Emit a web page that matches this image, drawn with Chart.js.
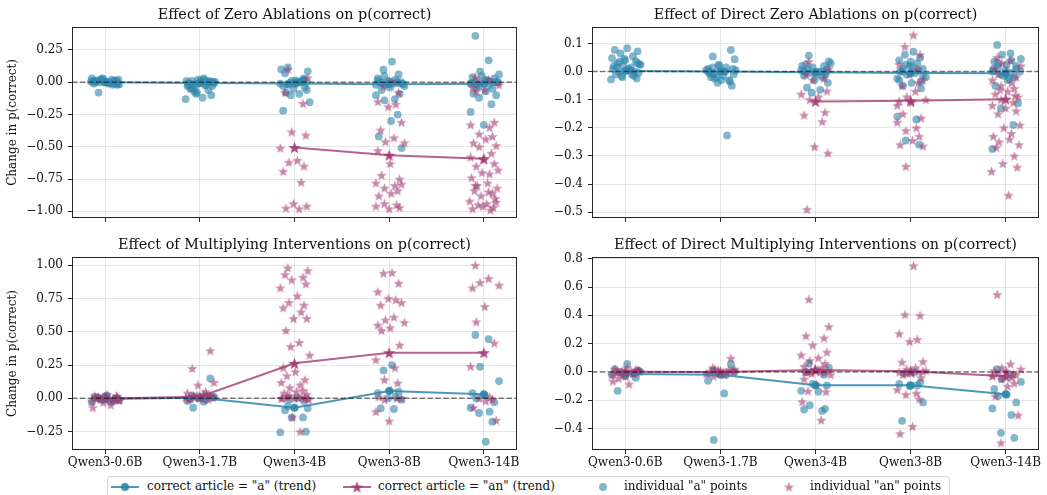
<!DOCTYPE html>
<html>
<head>
<meta charset="utf-8">
<script src="https://cdn.jsdelivr.net/npm/chart.js@4.4.1/dist/chart.umd.min.js"></script>
<style>
  html, body { margin: 0; padding: 0; background: #ffffff; }
  #wrap { position: relative; width: 1047px; height: 495px; overflow: hidden; background: #fff; }
  canvas.panel { position: absolute; }
  #legend { position: absolute; left: 107px; top: 476px; width: 843px; height: 24px; box-sizing: border-box;
            border: 1px solid #d4d4d4; border-radius: 3px; background: rgba(255,255,255,0.85);
            font-family: "DejaVu Serif", serif; font-size: 12px; color: #111; }
  .li { position: absolute; top: 2px; white-space: nowrap; line-height: 15px; }
  .lm { position: absolute; top: 3px; }
</style>
</head>
<body>
<div id="wrap">
  <canvas class="panel" id="c1" width="525" height="230" style="left:0px;top:0px;width:525px;height:230px"></canvas>
  <canvas class="panel" id="c2" width="527" height="230" style="left:520px;top:0px;width:527px;height:230px"></canvas>
  <canvas class="panel" id="c3" width="525" height="245" style="left:0px;top:230px;width:525px;height:245px"></canvas>
  <canvas class="panel" id="c4" width="527" height="245" style="left:520px;top:230px;width:527px;height:245px"></canvas>
  <div id="legend">
    <canvas class="lm" id="lm1" width="30" height="14" style="left:2px"></canvas>
    <span class="li" style="left:39px">correct article = "a" (trend)</span>
    <canvas class="lm" id="lm2" width="30" height="14" style="left:234px"></canvas>
    <span class="li" style="left:270px">correct article = "an" (trend)</span>
    <canvas class="lm" id="lm3" width="30" height="14" style="left:480px"></canvas>
    <span class="li" style="left:516px">individual "a" points</span>
    <canvas class="lm" id="lm4" width="30" height="14" style="left:666px"></canvas>
    <span class="li" style="left:702px">individual "an" points</span>
  </div>
</div>
<script>
// ---------------- DATA ----------------
const MODELS = ['Qwen3-0.6B', 'Qwen3-1.7B', 'Qwen3-4B', 'Qwen3-8B', 'Qwen3-14B'];

// horizontal jitter offsets (category units) used to spread individual points
const JITTER = [0.02,-0.11,0.13,-0.05,0.08,-0.14,0.0,0.11,-0.08,0.15,-0.02,0.06,-0.13,0.04,-0.07,0.14,-0.1,0.09,-0.03,0.12,
                -0.15,0.03,-0.06,0.1,-0.12,0.07,-0.01,0.13,-0.09,0.05,-0.04,0.16,-0.12,0.01,-0.08,0.11,-0.14,0.06,-0.05,0.09];

// Panel 1: Effect of Zero Ablations
const zeroA = [
  [0,0.01,-0.01,0.02,-0.02,0.03,0.005,-0.005,0.015,-0.015,0.025,0,0.01,-0.01,-0.08,0.02,0,-0.01,0.03,0.01,0.005,-0.005,0,0.015,-0.01,0.02,0,-0.02],
  [0,0.01,-0.01,0.02,-0.02,-0.03,0.03,-0.04,0,-0.05,-0.06,-0.08,-0.1,-0.13,-0.12,-0.07,0.01,-0.02,0,-0.01,-0.03,-0.05,0.02,-0.09,0.005,-0.005,0.015,-0.015,0,0.01,-0.025,-0.035],
  [0.115,0.085,0.07,0.02,0.01,0,-0.01,0.005,-0.02,0.03,-0.03,0,-0.05,-0.06,-0.08,-0.09,-0.1,-0.155,-0.22,0.015,-0.015,-0.04,0.1,0,-0.005,0.01,-0.01],
  [0.16,0.097,0.06,0.03,0.02,0.01,0,-0.005,-0.01,-0.02,-0.03,0.015,-0.04,-0.06,-0.09,-0.1,-0.13,-0.14,-0.25,-0.3,-0.42,-0.51,0.05,0,-0.02,0.005,-0.01,0,-0.015],
  [0.36,0.17,0.085,0.06,0.04,0.02,0.01,0,-0.01,-0.02,-0.03,-0.05,-0.07,-0.09,-0.1,-0.12,-0.17,-0.23,-0.33,0.03,-0.04,0,0.05,0.005,-0.005,0.015,-0.015,0]
];
const zeroAn = [
  [],
  [],
  [0.1,0.035,-0.08,-0.165,-0.385,-0.41,-0.51,-0.605,-0.62,-0.65,-0.69,-0.775,-0.94,-0.96,-0.975,-0.98],
  [0.008,-0.03,-0.08,-0.15,-0.17,-0.19,-0.31,-0.37,-0.43,-0.46,-0.47,-0.53,-0.63,-0.72,-0.75,-0.78,-0.8,-0.82,-0.84,-0.86,-0.88,-0.79,-0.94,-0.95,-0.96,-0.98,-0.97],
  [0.04,0.02,0,-0.02,-0.04,-0.06,-0.07,-0.31,-0.33,-0.35,-0.4,-0.42,-0.44,-0.47,-0.49,-0.5,-0.55,-0.58,-0.6,-0.63,-0.65,-0.68,-0.7,-0.71,-0.74,-0.78,-0.8,-0.82,-0.84,-0.86,-0.88,-0.9,-0.92,-0.94,-0.95,-0.97,-0.98,-0.99,-0.96,-0.93,-0.8,-0.85]
];
const zeroTrendA  = [0.0, -0.005, -0.01, -0.015, -0.012];
const zeroTrendAn = [null, null, -0.506, -0.565, -0.592];
const zeroTicks = [-1.0, -0.75, -0.5, -0.25, 0.0, 0.25];

// Panel 2: Effect of Direct Zero Ablations
const dzeroA = [
  [0.083,0.077,0.072,0.065,0.055,0.048,0.04,0.037,0.03,0.025,0.02,0.015,0.01,0.005,0,-0.005,-0.01,-0.015,-0.02,-0.025,-0.028,0.01,0.035,0.0,0.02,-0.01,0.045,0.03,0.015,0.005,-0.015,0.025],
  [0.077,0.054,0.044,0.025,0.015,0.01,0,-0.005,-0.01,-0.02,-0.03,-0.04,-0.05,0.005,-0.015,-0.025,-0.035,0,-0.227,0.02,0.01,-0.01,0,-0.02,0.005,-0.005,-0.03,0.015],
  [0.057,0.036,0.025,0.02,0.015,0.01,0.005,0,-0.005,-0.01,-0.015,-0.02,-0.03,-0.04,-0.057,-0.065,-0.075,0.03,0,-0.01,0.01,-0.005,0.02,0],
  [0.071,0.06,0.05,0.04,0.03,0.02,0.01,0,-0.005,-0.01,-0.02,-0.03,-0.04,-0.05,-0.06,-0.16,-0.17,-0.245,-0.26,0.015,0,-0.015,0.025,0.005,-0.025,0.035,-0.035,0.01],
  [0.095,0.065,0.06,0.045,0.035,0.025,0.015,0.01,0,-0.005,-0.01,-0.02,-0.03,-0.05,-0.113,-0.13,-0.19,-0.275,0.005,0.02,0.03,0.0,-0.015,0.04,0.01,-0.025]
];
const dzeroAn = [
  [],
  [],
  [0.036,0.01,-0.01,-0.025,-0.03,-0.069,-0.08,-0.09,-0.1,-0.145,-0.155,-0.178,-0.267,-0.29,-0.49],
  [0.13,0.089,0.06,0.025,0.01,-0.01,-0.03,-0.05,-0.07,-0.09,-0.1,-0.105,-0.11,-0.15,-0.165,-0.18,-0.2,-0.21,-0.23,-0.245,-0.26,-0.265,-0.337,-0.04,-0.12],
  [0.05,0.04,0.03,0.02,0.01,0,-0.01,-0.02,-0.03,-0.04,-0.05,-0.06,-0.07,-0.08,-0.09,-0.1,-0.11,-0.12,-0.13,-0.14,-0.15,-0.19,-0.2,-0.22,-0.23,-0.24,-0.25,-0.26,-0.27,-0.3,-0.327,-0.34,-0.355,-0.44,-0.065,-0.085]
];
const dzeroTrendA  = [0.002, 0.0, -0.002, -0.005, -0.006];
const dzeroTrendAn = [null, null, -0.106, -0.104, -0.098];
const dzeroTicks = [-0.5, -0.4, -0.3, -0.2, -0.1, 0.0, 0.1];

// Panel 3: Effect of Multiplying Interventions
const multA = [
  [0.02,0.01,0,-0.01,-0.02,-0.03,0.015,-0.005,0.005,-0.015,0,-0.025],
  [0.15,0.02,0.01,0,-0.01,-0.02,-0.025,-0.07,0.005,-0.005,0.015],
  [-0.06,-0.075,-0.09,-0.143,-0.145,-0.25,-0.255,0.005,-0.01,-0.02],
  [0.25,0.21,0.05,0.04,0.01,0,-0.01,-0.075,-0.08],
  [0.476,0.445,0.238,0.13,0.04,0.02,0,-0.03,-0.07,-0.1,-0.11,-0.175,-0.326]
];
const multAn = [
  [0.03,0.02,0.01,0,-0.01,-0.02,0.015,-0.005,0.005,-0.015,-0.03,-0.05,-0.07,0,0.01,-0.01,0.005,-0.005,0,0.02],
  [0.358,0.225,0.12,0.1,0.05,0.04,0.03,0.02,0.01,0,-0.01,0.025,0.015,0.005,0,0.01,0.02,-0.005,0.03],
  [0.98,0.96,0.93,0.91,0.89,0.86,0.83,0.77,0.72,0.7,0.68,0.65,0.6,0.6,0.51,0.42,0.39,0.325,0.23,0.2,0.17,0.14,0.12,0.1,0.08,0.06,0.05,0.04,0.03,0.02,0.01,0,0,0,0.01,-0.01,-0.14,-0.25,0,0.005,0.015,0],
  [0.945,0.94,0.865,0.8,0.74,0.75,0.72,0.7,0.61,0.59,0.57,0.55,0.53,0.51,0.4,0.29,0.23,0.14,0.115,0.06,0.01,0,-0.01,0,-0.1,-0.17],
  [1.0,0.9,0.87,0.85,0.83,0.69,0.575,0.415,0.24,0.01,0,-0.01,-0.02,-0.07,-0.165]
];
const multTrendA  = [-0.005, 0.005, -0.07, 0.055, 0.03];
const multTrendAn = [-0.002, 0.012, 0.263, 0.343, 0.343];
const multTicks = [-0.25, 0.0, 0.25, 0.5, 0.75, 1.0];

// Panel 4: Effect of Direct Multiplying Interventions
const dmultA = [
  [0.057,0.02,0.01,0,-0.01,-0.02,-0.03,-0.04,-0.133,0.005,-0.015],
  [0.055,0.01,0,-0.01,-0.02,-0.062,-0.152,-0.48],
  [0.06,0.03,0.0,-0.02,-0.085,-0.095,-0.133,-0.14,-0.235,-0.26,-0.265,-0.275],
  [0.0,-0.01,-0.075,-0.085,-0.095,-0.1,-0.215,-0.345],
  [0.02,-0.02,-0.05,-0.07,-0.12,-0.16,-0.17,-0.215,-0.258,-0.303,-0.43,-0.465]
];
const dmultAn = [
  [0.03,0.02,0.01,0,-0.01,-0.02,-0.03,0.015,-0.005,0.005,-0.015,0,-0.065,-0.085,-0.045,0.01,0,-0.01,0.005,-0.005],
  [0.097,0.03,0.02,0.01,0,-0.01,-0.02,-0.03,0.005,-0.005,0.015,0,0.01,-0.01,0,0.02],
  [0.513,0.32,0.255,0.24,0.19,0.14,0.12,0.1,0.08,0.06,0.04,0.03,0.02,0.01,0,0,-0.01,-0.02,-0.05,-0.09,-0.135,-0.14,-0.21,-0.34,0.005,-0.005,0.015,0],
  [0.75,0.405,0.4,0.27,0.23,0.215,0.073,0.07,0.03,0.02,0.01,0,-0.01,-0.02,-0.04,-0.125,-0.15,-0.16,-0.19,-0.385,-0.435,0.005,-0.005,0],
  [0.547,0.057,0.03,0.02,0.01,0,-0.01,-0.02,-0.03,-0.04,-0.05,-0.08,-0.1,-0.17,-0.305,-0.5,-0.015,-0.025,0.005]
];
const dmultTrendA  = [-0.015, -0.02, -0.093, -0.093, -0.157];
const dmultTrendAn = [0.002, 0.0, 0.014, 0.006, -0.03];
const dmultTicks = [-0.4, -0.2, 0.0, 0.2, 0.4, 0.6, 0.8];

// ---------------- STYLE ----------------
const FONT = '"DejaVu Serif", serif';
const BLUE = '46,134,171';
const PINK = '162,59,114';

function makeStar(rgba, R) {
  const s = Math.ceil(R * 2 + 2);
  const c = document.createElement('canvas');
  c.width = s; c.height = s;
  const g = c.getContext('2d');
  const cx = s / 2, cy = s / 2 + R * 0.09, r = R * 0.42;
  g.beginPath();
  for (let k = 0; k < 10; k++) {
    const rad = (k % 2 === 0) ? R : r;
    const ang = -Math.PI / 2 + k * Math.PI / 5;
    const px = cx + rad * Math.cos(ang), py = cy + rad * Math.sin(ang);
    if (k === 0) g.moveTo(px, py); else g.lineTo(px, py);
  }
  g.closePath();
  g.fillStyle = rgba;
  g.fill();
  return c;
}
const STAR_PT = makeStar('rgba(' + PINK + ',0.6)', 5.4);
const STAR_TR = makeStar('rgba(' + PINK + ',0.9)', 6.4);

function fmtTick(v, dec) {
  const s = Math.abs(v).toFixed(dec);
  return (v < -1e-9 ? '\u2212' : '') + s;
}

function scatterPoints(groups) {
  const pts = [];
  groups.forEach((ys, i) => {
    ys.forEach((y, j) => {
      pts.push({ x: i + JITTER[(j + i * 7) % JITTER.length], y: y });
    });
  });
  return pts;
}
function trendPoints(vals) {
  const pts = [];
  vals.forEach((v, i) => { if (v !== null) pts.push({ x: i, y: v }); });
  return pts;
}

const panelPlugin = {
  id: 'panelDeco',
  afterDatasetsDraw(chart, args, opts) {
    const { ctx, chartArea: a, scales } = chart;
    const y0 = scales.y.getPixelForValue(0);
    ctx.save();
    ctx.beginPath();
    ctx.rect(a.left, a.top, a.right - a.left, a.bottom - a.top);
    ctx.clip();
    ctx.strokeStyle = 'rgba(0,0,0,0.5)';
    ctx.lineWidth = 1.5;
    ctx.setLineDash([5.5, 2.4]);
    ctx.beginPath();
    ctx.moveTo(a.left, y0);
    ctx.lineTo(a.right, y0);
    ctx.stroke();
    ctx.restore();
    ctx.save();
    ctx.strokeStyle = '#262626';
    ctx.lineWidth = 1;
    ctx.strokeRect(Math.round(a.left) + 0.5, Math.round(a.top) + 0.5,
                   Math.round(a.right - a.left) - 1, Math.round(a.bottom - a.top) - 1);
    ctx.restore();
  },
  afterDraw(chart, args, opts) {
    const { ctx, chartArea: a } = chart;
    ctx.save();
    ctx.fillStyle = '#111';
    ctx.font = '14.4px ' + FONT;
    ctx.textAlign = 'center';
    ctx.textBaseline = 'middle';
    ctx.fillText(opts.title, (a.left + a.right) / 2, 15);
    ctx.restore();
  }
};

function makePanel(id, cfg) {
  const datasets = [
    { label: 'individual "a" points', data: scatterPoints(cfg.a), pointRadius: 3.9, pointHoverRadius: 3.9,
      backgroundColor: 'rgba(' + BLUE + ',0.6)', borderWidth: 0, showLine: false, order: 4 },
    { label: 'individual "an" points', data: scatterPoints(cfg.an), pointStyle: STAR_PT, pointRadius: 5,
      backgroundColor: 'rgba(' + PINK + ',0.6)', borderWidth: 0, showLine: false, order: 3 },
    { label: 'correct article = "a" (trend)', data: trendPoints(cfg.trendA), showLine: true,
      borderColor: 'rgba(' + BLUE + ',0.85)', borderWidth: 2, pointRadius: 4, pointHoverRadius: 4,
      pointBackgroundColor: 'rgba(' + BLUE + ',0.9)', pointBorderWidth: 0, order: 2 },
    { label: 'correct article = "an" (trend)', data: trendPoints(cfg.trendAn), showLine: true,
      borderColor: 'rgba(' + PINK + ',0.8)', borderWidth: 2, pointStyle: STAR_TR, pointRadius: 6,
      pointBackgroundColor: 'rgba(' + PINK + ',0.9)', pointBorderWidth: 0, order: 1 }
  ];
  const gridColor = 'rgba(176,176,176,0.32)';
  new Chart(document.getElementById(id), {
    type: 'scatter',
    data: { datasets },
    options: {
      responsive: false, animation: false, devicePixelRatio: 1,
      layout: { padding: { top: 27, right: 8, left: 0, bottom: 0 } },
      plugins: { legend: { display: false }, tooltip: { enabled: false }, panelDeco: { title: cfg.title } },
      scales: {
        x: {
          type: 'linear', min: -0.35, max: 4.35,
          afterBuildTicks: (s) => { s.ticks = MODELS.map((m, i) => ({ value: i })); },
          afterFit: (s) => { s.height = cfg.showX ? 25 : 10; },
          grid: { color: gridColor, lineWidth: 1, drawTicks: true, tickLength: 4, tickColor: '#262626', tickWidth: 1 },
          border: { display: false },
          ticks: { display: cfg.showX, autoSkip: false, maxRotation: 0, padding: 2, color: '#111',
                   font: { family: FONT, size: 12 },
                   callback: (v) => MODELS[Math.round(v)] || '' }
        },
        y: {
          type: 'linear', min: cfg.yMin, max: cfg.yMax,
          afterBuildTicks: (s) => { s.ticks = cfg.ticks.map(v => ({ value: v })); },
          afterFit: (s) => { s.width = 72; },
          grid: { color: gridColor, lineWidth: 1, drawTicks: true, tickLength: 4, tickColor: '#262626', tickWidth: 1 },
          border: { display: false },
          title: { display: cfg.yTitle, text: 'Change in p(correct)', color: '#111',
                   font: { family: FONT, size: 12 }, padding: { top: 6, bottom: 0 } },
          ticks: { autoSkip: false, padding: 5, color: '#111', font: { family: FONT, size: 12 },
                   callback: (v) => fmtTick(v, cfg.dec) }
        }
      }
    },
    plugins: [panelPlugin]
  });
}

makePanel('c1', { title: 'Effect of Zero Ablations on p(correct)', a: zeroA, an: zeroAn,
  trendA: zeroTrendA, trendAn: zeroTrendAn, yMin: -1.05, yMax: 0.428, ticks: zeroTicks, dec: 2, yTitle: true, showX: false });
makePanel('c2', { title: 'Effect of Direct Zero Ablations on p(correct)', a: dzeroA, an: dzeroAn,
  trendA: dzeroTrendA, trendAn: dzeroTrendAn, yMin: -0.52, yMax: 0.1586, ticks: dzeroTicks, dec: 1, yTitle: false, showX: false });
makePanel('c3', { title: 'Effect of Multiplying Interventions on p(correct)', a: multA, an: multAn,
  trendA: multTrendA, trendAn: multTrendAn, yMin: -0.388, yMax: 1.062, ticks: multTicks, dec: 2, yTitle: true, showX: true });
makePanel('c4', { title: 'Effect of Direct Multiplying Interventions on p(correct)', a: dmultA, an: dmultAn,
  trendA: dmultTrendA, trendAn: dmultTrendAn, yMin: -0.551, yMax: 0.812, ticks: dmultTicks, dec: 1, yTitle: false, showX: true });

// ---------------- LEGEND MARKERS ----------------
function legendMarker(id, kind) {
  const g = document.getElementById(id).getContext('2d');
  const cy = 7;
  if (kind === 'lineA' || kind === 'lineAn') {
    g.strokeStyle = kind === 'lineA' ? 'rgba(' + BLUE + ',0.85)' : 'rgba(' + PINK + ',0.8)';
    g.lineWidth = 2;
    g.beginPath(); g.moveTo(1, cy); g.lineTo(29, cy); g.stroke();
  }
  if (kind === 'lineA' || kind === 'ptA') {
    g.fillStyle = kind === 'lineA' ? 'rgba(' + BLUE + ',0.9)' : 'rgba(' + BLUE + ',0.6)';
    g.beginPath(); g.arc(15, cy, 4, 0, Math.PI * 2); g.fill();
  }
  if (kind === 'lineAn' || kind === 'ptAn') {
    const img = kind === 'lineAn' ? STAR_TR : STAR_PT;
    g.drawImage(img, 15 - img.width / 2, cy - img.height / 2);
  }
}
legendMarker('lm1', 'lineA');
legendMarker('lm2', 'lineAn');
legendMarker('lm3', 'ptA');
legendMarker('lm4', 'ptAn');
</script>
</body>
</html>
